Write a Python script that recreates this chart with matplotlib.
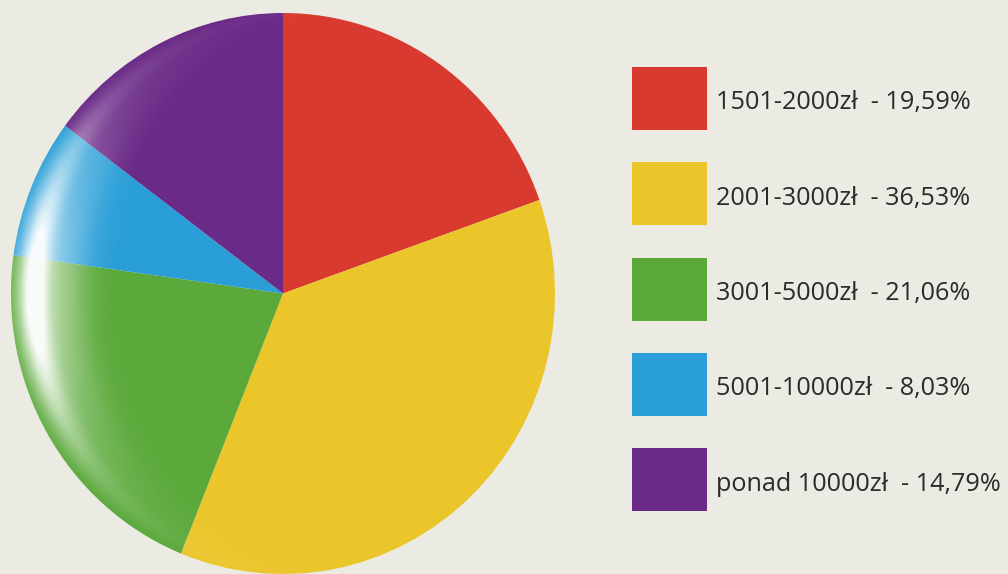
import numpy as np
import matplotlib
matplotlib.use("Agg")
import matplotlib.pyplot as plt
from matplotlib.patches import Rectangle, Ellipse

categories = ["1501-2000zł", "2001-3000zł", "3001-5000zł", "5001-10000zł", "ponad 10000zł"]
values = [19.59, 36.53, 21.06, 8.03, 14.79]
colors = ["#d93a2f", "#ebc62b", "#5ba93b", "#2a9fd7", "#6a2a87"]
bg = "#ecebe3"

W, H = 1008, 574
fig = plt.figure(figsize=(W / 100, H / 100), dpi=100, facecolor=bg)

# pie axes (pixel box)
px0, px1, py0, py1 = 11, 555, 13, 574
ax = fig.add_axes([px0 / W, 1 - py1 / H, (px1 - px0) / W, (py1 - py0) / H])
wedges, _ = ax.pie(values, colors=colors, startangle=90, counterclock=False,
                   radius=1, center=(0, 0), wedgeprops=dict(linewidth=0))
ax.set_xlim(-1, 1)
ax.set_ylim(-1, 1)
ax.set_aspect("auto")
ax.axis("off")

# glossy highlight along the left rim
nx, ny = 500, 500
xs = np.linspace(-1, 1, nx)
ys = np.linspace(-1, 1, ny)
X, Y = np.meshgrid(xs, ys)
edge = -np.sqrt(np.clip(1 - Y ** 2, 0, 1))
d = X - edge
band = np.exp(-((d - 0.08) / 0.06) ** 2) + 0.4 * np.exp(-((d - 0.18) / 0.1) ** 2)
vy = np.exp(-((Y - 0.0) / 0.52) ** 2)
alpha = np.clip(band * vy * 1.0, 0, 0.97)
img = np.ones((ny, nx, 4))
img[..., 3] = alpha
im = ax.imshow(img, extent=(-1, 1, -1, 1), origin="lower", zorder=5, aspect="auto")
clip = Ellipse((0, 0), 2, 2, transform=ax.transData, facecolor="none", edgecolor="none")
ax.add_patch(clip)
im.set_clip_path(clip)
ax.set_xlim(-1, 1)
ax.set_ylim(-1, 1)

# legend overlay in pixel coordinates
lax = fig.add_axes([0, 0, 1, 1])
lax.set_xlim(0, W)
lax.set_ylim(H, 0)
lax.axis("off")
lax.patch.set_alpha(0)
top0, step = 67, 95.3
for i, (cat, val, col) in enumerate(zip(categories, values, colors)):
    y = top0 + i * step
    lax.add_patch(Rectangle((632, y), 75, 63, facecolor=col, edgecolor="none"))
    label = f"{cat}  - {val:.2f}".replace(".", ",") + "%"
    lax.text(716, y + 36, label, fontsize=18.2, family="Open Sans",
             color="#2b2b2b", va="center", ha="left")

fig.savefig("out.png", dpi=100, facecolor=bg)
